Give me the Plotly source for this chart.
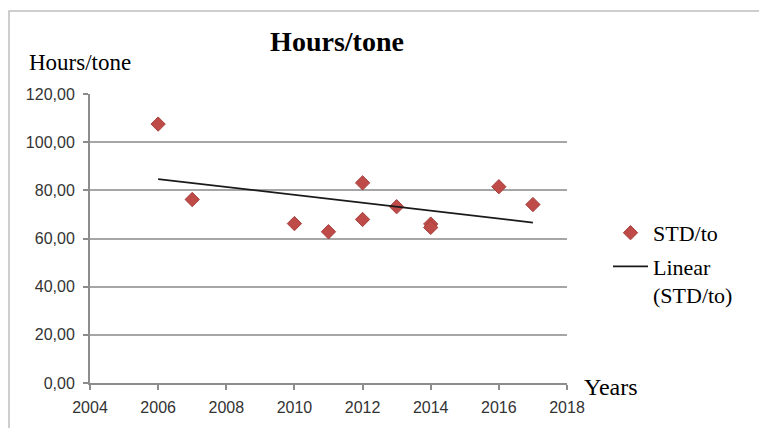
import numpy as np
import plotly.graph_objects as go

years = [2006, 2007, 2010, 2011, 2012, 2012, 2013, 2014, 2014, 2016, 2017]
hours_per_tone = [107.5, 76.2, 66.2, 62.8, 83.1, 67.9, 73.2, 66.0, 64.6, 81.5, 74.1]
y_ticks = [0, 20, 40, 60, 80, 100, 120]
y_tick_labels = ["0,00", "20,00", "40,00", "60,00", "80,00", "100,00", "120,00"]
x_ticks = [2004, 2006, 2008, 2010, 2012, 2014, 2016, 2018]

slope, intercept = np.polyfit(years, hours_per_tone, 1)
trend_x = [min(years), max(years)]
trend_y = [slope * x + intercept for x in trend_x]

fig = go.Figure()
fig.add_trace(go.Scatter(
    x=years, y=hours_per_tone, mode="markers", name="STD/to",
    legendgroup="a",
    marker=dict(symbol="diamond", size=11, color="#BE4B48",
                line=dict(color="#A5403D", width=1)),
))
fig.add_trace(go.Scatter(
    x=trend_x, y=trend_y, mode="lines", name="Linear<br>(STD/to)",
    legendgroup="b",
    line=dict(color="#1a1a1a", width=1.8),
))

serif = "Liberation Serif, Times New Roman, serif"
sans = "Liberation Sans, Arial, sans-serif"
L, T, W, H = 82, 86, 477, 289
fig.update_layout(
    width=767, height=428,
    margin=dict(l=L, r=767 - L - W, t=T, b=428 - T - H),
    paper_bgcolor="white", plot_bgcolor="white",
    title=dict(text="<b>Hours/tone</b>", x=329 / 767, xanchor="center",
               y=1 - 33 / 428, yanchor="middle",
               font=dict(family=serif, size=28, color="black")),
    showlegend=True,
    legend=dict(x=(600 - L) / W, xanchor="left", y=0.592, yanchor="top",
                font=dict(family=serif, size=22, color="black"),
                bgcolor="rgba(0,0,0,0)", tracegroupgap=2, itemwidth=35,
                valign="top"),
    xaxis=dict(range=[2004, 2018], tickvals=x_ticks, ticks="outside",
               ticklen=5, tickcolor="#8c8c8c", tickwidth=1.5, showgrid=False,
               showline=True, linecolor="#8c8c8c", linewidth=2,
               zeroline=False, ticklabelstandoff=4,
               tickfont=dict(family=sans, size=16, color="#333333")),
    yaxis=dict(range=[0, 120], tickvals=y_ticks, ticktext=y_tick_labels,
               ticks="outside", ticklen=5, tickcolor="#8c8c8c", tickwidth=1.5,
               showgrid=True, gridcolor="#a6a6a6", gridwidth=2,
               showline=True, linecolor="#8c8c8c", linewidth=2,
               zeroline=False, ticklabelstandoff=5,
               tickfont=dict(family=sans, size=16, color="#333333")),
    annotations=[
        dict(text="Hours/tone", xref="paper", yref="paper",
             x=(19 - L) / W, y=1 + (T - 54) / H, xanchor="left", yanchor="middle",
             showarrow=False, font=dict(family=serif, size=23, color="black")),
        dict(text="Years", xref="paper", yref="paper",
             x=(574 - L) / W, y=(T + H - 379) / H, xanchor="left", yanchor="middle",
             showarrow=False, font=dict(family=serif, size=24, color="black")),
    ],
    shapes=[
        dict(type="rect", xref="paper", yref="paper",
             x0=(1 - L) / W, x1=1 + 260 / W, y0=-80 / H, y1=1 + (T - 3) / H,
             line=dict(color="#bfbfbf", width=1.5)),
    ],
)

fig.write_html("out.html")
